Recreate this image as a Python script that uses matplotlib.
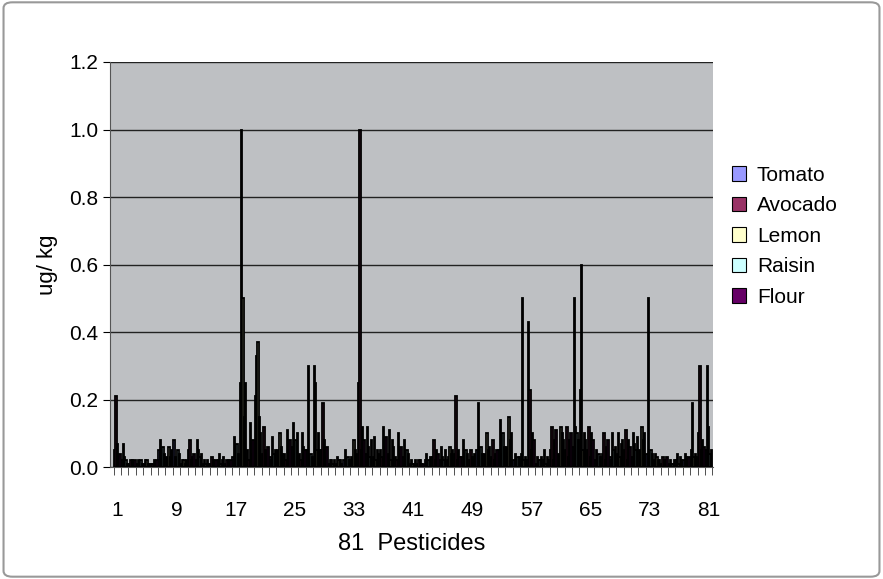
import matplotlib
matplotlib.use("Agg")
import matplotlib.pyplot as plt
import numpy as np
from matplotlib.patches import FancyBboxPatch

plt.rcParams['font.family'] = ['Liberation Sans', 'DejaVu Sans']

series = ["Tomato", "Avocado", "Lemon", "Raisin", "Flour"]
colors = ["#9999FF", "#993366", "#FFFFCC", "#CCFFFF", "#660066"]
tomato = [0.05,0.02,0.01,0.01,0.01,0.01,0.05,0.03,0.08,0.01,0.05,0.02,0.01,0.01,0.02,0.01,0.03,0.25,0.05,0.21,0.04,0.03,0.05,0.04,0.06,0.04,0.05,0.30,0.05,0.01,0.01,0.02,0.03,0.25,0.04,0.03,0.05,0.04,0.03,0.03,0.01,0.01,0.02,0.03,0.02,0.02,0.04,0.03,0.02,0.05,0.04,0.03,0.05,0.06,0.02,0.04,0.43,0.01,0.02,0.05,0.04,0.05,0.06,0.23,0.05,0.02,0.04,0.03,0.04,0.05,0.03,0.05,0.04,0.02,0.01,0.01,0.02,0.02,0.05,0.10,0.05]
avocado = [0.21,0.07,0.02,0.02,0.02,0.01,0.08,0.02,0.03,0.02,0.08,0.08,0.02,0.03,0.04,0.02,0.09,1.0,0.02,0.33,0.12,0.02,0.03,0.02,0.13,0.02,0.30,0.25,0.19,0.02,0.03,0.05,0.02,1.0,0.12,0.09,0.03,0.11,0.02,0.08,0.02,0.02,0.04,0.08,0.06,0.03,0.21,0.08,0.05,0.19,0.02,0.08,0.14,0.03,0.04,0.50,0.23,0.03,0.05,0.12,0.03,0.12,0.50,0.60,0.12,0.05,0.10,0.02,0.10,0.11,0.10,0.02,0.50,0.04,0.03,0.02,0.04,0.04,0.19,0.30,0.30]
lemon = [0.07,0.03,0.02,0.01,0.02,0.02,0.03,0.06,0.02,0.02,0.02,0.05,0.01,0.02,0.01,0.02,0.05,0.50,0.13,0.37,0.05,0.09,0.10,0.11,0.04,0.10,0.02,0.05,0.08,0.02,0.02,0.01,0.08,0.05,0.06,0.02,0.12,0.02,0.10,0.02,0.01,0.02,0.01,0.02,0.03,0.06,0.02,0.02,0.03,0.03,0.10,0.02,0.04,0.15,0.02,0.02,0.05,0.02,0.01,0.02,0.12,0.03,0.12,0.05,0.03,0.03,0.02,0.10,0.03,0.02,0.07,0.12,0.03,0.03,0.02,0.01,0.01,0.03,0.03,0.05,0.12]
raisin = [0.03,0.02,0.01,0.02,0.01,0.01,0.06,0.03,0.05,0.01,0.03,0.03,0.02,0.01,0.02,0.01,0.07,0.15,0.04,0.15,0.03,0.04,0.06,0.05,0.08,0.06,0.04,0.10,0.03,0.01,0.02,0.03,0.05,0.12,0.03,0.05,0.06,0.08,0.04,0.05,0.01,0.01,0.02,0.05,0.02,0.04,0.05,0.05,0.02,0.06,0.05,0.04,0.10,0.08,0.03,0.03,0.10,0.02,0.03,0.08,0.10,0.08,0.10,0.10,0.10,0.04,0.06,0.05,0.07,0.08,0.05,0.08,0.05,0.02,0.02,0.01,0.03,0.02,0.04,0.08,0.04]
flour = [0.04,0.01,0.02,0.01,0.01,0.02,0.04,0.05,0.04,0.02,0.04,0.04,0.01,0.02,0.03,0.02,0.04,0.25,0.08,0.10,0.06,0.05,0.04,0.08,0.10,0.05,0.03,0.05,0.06,0.02,0.01,0.02,0.04,0.08,0.08,0.04,0.09,0.06,0.06,0.04,0.02,0.01,0.03,0.04,0.05,0.05,0.03,0.04,0.04,0.04,0.06,0.05,0.06,0.10,0.03,0.02,0.08,0.03,0.02,0.11,0.08,0.10,0.08,0.08,0.08,0.03,0.08,0.06,0.08,0.06,0.09,0.10,0.04,0.02,0.03,0.02,0.02,0.03,0.03,0.06,0.05]
data = [tomato, avocado, lemon, raisin, flour]
xticks = list(range(1, 82, 8))

fig = plt.figure(figsize=(8.83, 5.79), dpi=100)
fig.patches.append(FancyBboxPatch((0.004, 0.004), 0.992, 0.992, boxstyle="round,pad=0,rounding_size=0.01",
                                  transform=fig.transFigure, fill=False, edgecolor="#999999", lw=1.5))
ax = fig.add_axes([0.1246, 0.193, 0.683, 0.700])
ax.set_facecolor("#BEC0C3")
n = len(tomato)
x = np.arange(1, n + 1)
w = 0.18
for i, (vals, c, s) in enumerate(zip(data, colors, series)):
    ax.bar(x + (i - 2) * w, vals, width=w, color=c, edgecolor="black", linewidth=1.3, label=s, zorder=3)
ax.set_xlim(0.0, 81.6)
ax.set_ylim(0, 1.2)
ax.set_yticks(np.arange(0, 1.21, 0.2))
ax.set_yticklabels([f"{v:.1f}" for v in np.arange(0, 1.21, 0.2)], fontsize=15)
ax.set_xticks(xticks)
ax.set_xticklabels([str(t) for t in xticks], fontsize=15)
ax.set_xticks(np.arange(0.5, 82, 1), minor=True)
ax.tick_params(axis="x", which="major", length=0, pad=24)
ax.tick_params(axis="x", which="minor", length=6, color="#333333")
ax.tick_params(axis="y", length=5)
ax.grid(axis="y", color="#222222", lw=1, zorder=1)
for sp in ["top", "right"]:
    ax.spines[sp].set_visible(False)
ax.spines["left"].set_color("#555555")
ax.spines["bottom"].set_color("#555555")
ax.set_xlabel("81  Pesticides", fontsize=17, labelpad=10)
ax.set_ylabel("ug/ kg", fontsize=16, labelpad=8)
leg = ax.legend(loc="center left", bbox_to_anchor=(1.0, 0.57), frameon=False, fontsize=15,
                handlelength=0.7, handleheight=0.7, handletextpad=0.5, labelspacing=0.55)
for h in leg.legend_handles:
    h.set_linewidth(0.8)
fig.savefig("out.png", dpi=100)
